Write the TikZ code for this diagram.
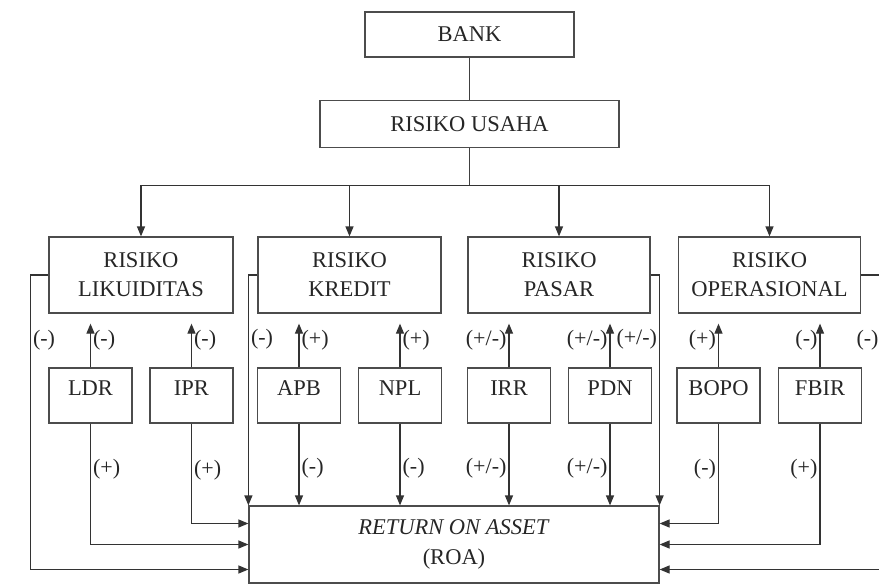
\documentclass[tikz,border=0pt]{standalone}
\usepackage{fontspec}
\setmainfont{Liberation Serif}
\usetikzlibrary{arrows.meta,positioning}
\begin{document}
\begin{tikzpicture}[x=1pt, y=-1pt, node distance={42pt},
	box/.style = {draw=black!70, line width=1.2pt, minimum height=76pt, align=center, inner sep=0pt, text=black!85, font=\fontsize{22.5}{29}\selectfont},
	sub/.style = {box, minimum width=83pt, minimum height=0pt, inner ysep=12pt, text height=15pt, text depth=16pt},
	arr/.style = {draw=black!80, line width=1.2pt, -{Triangle[length=10pt, width=8pt]}},
	up/.style = {arr, shorten >=10pt},
	lbl/.style = {inner sep=2pt, text=black!85, font=\fontsize{22}{26}\selectfont}]
	\useasboundingbox (0,0) rectangle (879,584);
	
	\node[box, minimum width=209pt, minimum height=45pt] (bank) at (469.5,34.5) {BANK};
	\node[box, minimum width=299pt, minimum height=47pt, below = of bank] (usaha) {RISIKO USAHA};
	\node[box, minimum width=184pt] (likuid) at (141,275) {RISIKO\\LIKUIDITAS};
	\node[box, minimum width=183pt] (kredit) at (349.5,275) {RISIKO\\KREDIT};
	\node[box, minimum width=182pt] (pasar) at (559,275) {RISIKO\\PASAR};
	\node[box, minimum width=182pt] (opr) at (769.5,275) {RISIKO\\OPERASIONAL};
	\node[box, minimum width=410pt, minimum height=77pt, font=\fontsize{22.5}{30}\selectfont] (roa) at (454,544.5) {\textit{RETURN ON ASSET}\\(ROA)};
	\foreach \n/\x in {LDR/90.5, IPR/191.5, APB/299, NPL/400, IRR/509, PDN/610, BOPO/718.5, FBIR/820}
		\node[sub] (\n) at (\x,395.5) {\n};
	
	\draw[draw=black!75, line width=1.2pt] (bank) -- (usaha) (usaha.south) -- ++(0,38) coordinate (bus);
	\foreach \r in {likuid, kredit, pasar, opr}
		\draw[arr] (bus) -| (\r.north);
	
	% ke risiko
	\draw[up] (LDR) -- node[lbl, right]{(-)} (LDR |- likuid.south);
	\draw[up] (IPR) -- node[lbl, right]{(-)} (IPR |- likuid.south);
	\draw[up] (APB) -- node[lbl, right]{(+)} (APB |- kredit.south);
	\draw[up] (NPL) -- node[lbl, right]{(+)} (NPL |- kredit.south);
	\draw[up] (IRR) -- node[lbl, left]{(+/-)} (IRR |- pasar.south);
	\draw[up] (PDN) -- node[lbl, left]{(+/-)} (PDN |- pasar.south);
	\draw[up] (BOPO) -- node[lbl, left]{(+)} (BOPO |- opr.south);
	\draw[up] (FBIR) -- node[lbl, left]{(-)} (FBIR |- opr.south);
	
	% ke ROA
	\draw[arr] (LDR) |- node[lbl, right, pos=0.19]{(+)} (roa.west);
	\draw[arr] (IPR) |- node[lbl, right, pos=0.235]{(+)} ([yshift=21pt]roa.west);
	\draw[arr] (APB) -- node[lbl, right, pos=0.55]{(-)} (APB |- roa.north);
	\draw[arr] (NPL) -- node[lbl, right, pos=0.55]{(-)} (NPL |- roa.north);
	\draw[arr] (IRR) -- node[lbl, left, pos=0.55]{(+/-)} (IRR |- roa.north);
	\draw[arr] (PDN) -- node[lbl, left, pos=0.55]{(+/-)} (PDN |- roa.north);
	\draw[arr] (BOPO) |- node[lbl, left, pos=0.23]{(-)} ([yshift=21pt]roa.east);
	\draw[arr] (FBIR) |- node[lbl, left, pos=0.19]{(+)} (roa.east);
	
	% risiko langsung ke ROA
	\draw[arr] (likuid.west) -- ++(-18,0) |- node[lbl, right, pos=0.11]{(-)} ([yshift=-25pt]roa.west);
	\draw[arr] (kredit.west) -| node[lbl, right, pos=0.64]{(-)} (roa.north west);
	\draw[arr] (pasar.east) -| node[lbl, left, pos=0.64]{(+/-)} (roa.north east);
	\draw[arr] (opr.east) -- ++(20,0) |- node[lbl, left, pos=0.11]{(-)} ([yshift=-25pt]roa.east);
\end{tikzpicture}
\end{document}
